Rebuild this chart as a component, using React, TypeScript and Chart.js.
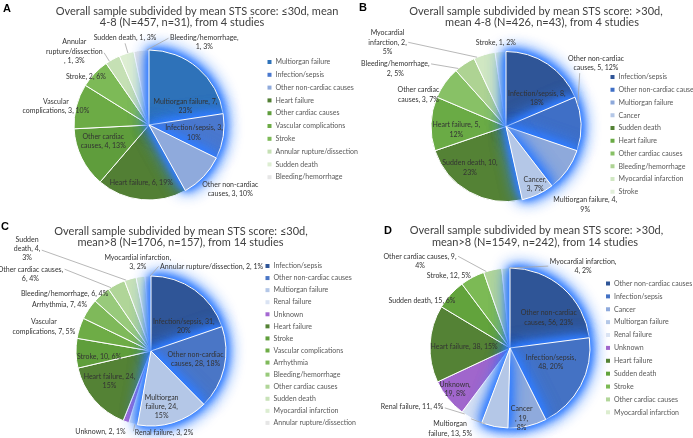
import React, { useEffect, useRef } from "react";
import { Chart, registerables } from "chart.js";

Chart.register(...registerables);

const W = 693;
const H = 438;

// ---------- Panel A ----------
const causesA = ["Multiorgan failure", "Infection/sepsis", "Other non-cardiac causes", "Heart failure", "Other cardiac causes", "Vascular complications", "Stroke", "Annular rupture/dissection", "Sudden death", "Bleeding/hemorrhage"];
const deathsA = [7, 3, 3, 6, 4, 3, 2, 1, 1, 1];
const pctA = [23, 10, 10, 19, 13, 10, 6, 3, 3, 3];
const titleA = ["Overall sample subdivided by mean STS score: ≤30d, mean", "4-8 (N=457, n=31), from 4 studies"];

// ---------- Panel B ----------
const causesB = ["Infection/sepsis", "Other non-cardiac causes", "Multiorgan failure", "Cancer", "Sudden death", "Heart failure", "Other cardiac causes", "Bleeding/hemorrhage", "Myocardial infarction", "Stroke"];
const deathsB = [8, 5, 4, 3, 10, 5, 3, 2, 2, 1];
const pctB = [18, 12, 9, 7, 23, 12, 7, 5, 5, 2];
const titleB = ["Overall sample subdivided by mean STS score: >30d,", "mean 4-8 (N=426, n=43), from 4 studies"];

// ---------- Panel C ----------
const causesC = ["Infection/sepsis", "Other non-cardiac causes", "Multiorgan failure", "Renal failure", "Unknown", "Heart failure", "Stroke", "Vascular complications", "Arrhythmia", "Bleeding/hemorrhage", "Other cardiac causes", "Sudden death", "Myocardial infarction", "Annular rupture/dissection"];
const deathsC = [31, 28, 24, 3, 2, 24, 10, 7, 7, 6, 6, 4, 3, 2];
const pctC = [20, 18, 15, 2, 1, 15, 6, 5, 4, 4, 4, 3, 2, 1];
const titleC = ["Overall sample subdivided by mean STS score: ≤30d,", "mean>8 (N=1706, n=157), from 14 studies"];

// ---------- Panel D ----------
const causesD = ["Other non-cardiac causes", "Infection/sepsis", "Cancer", "Multiorgan failure", "Renal failure", "Unknown", "Heart failure", "Sudden death", "Stroke", "Other cardiac causes", "Myocardial infarction"];
const deathsD = [56, 48, 19, 13, 11, 19, 38, 15, 12, 9, 4];
const pctD = [23, 20, 8, 5, 4, 8, 15, 6, 5, 4, 2];
const titleD = ["Overall sample subdivided by mean STS score: >30d,", "mean>8 (N=1549, n=242), from 14 studies"];

// ---------- colours ----------
const colorsA = ["#2E72B9", "#4A78CE", "#8FAADC", "#527F34", "#5F9D3C", "#6CAB45", "#7DBA57", "#C5E0B4", "#DDEED2", "#E6E6E6"];
const colorsB = ["#2F5597", "#3F6FC6", "#8EA9DB", "#B4C7E7", "#548235", "#6AAB45", "#88C166", "#AED393", "#D0E7C2", "#E2EFDA"];
const colorsC = ["#2F5597", "#4A76C6", "#B4C7E7", "#DAE3F3", "#A468D2", "#548235", "#5F9E3B", "#6EAC46", "#7FB95A", "#98CA7B", "#B0D598", "#C8E2B8", "#DCEDD1", "#E6E6E6"];
const colorsD = ["#2F5597", "#4472C4", "#8FAADC", "#B4C7E7", "#DAE3F3", "#A066CC", "#548235", "#62A33C", "#7CBA55", "#B2D69A", "#DCEDCF"];

type Place = { b: string[]; k: number; dx: number; dy: number; a?: [number, number] };

const placeA: Place[] = [
  { b: ["val"], k: 0.5, dx: 12, dy: 10 },
  { b: ["val"], k: 0.6, dx: 0.5, dy: 1 },
  { b: ["w2"], k: 1.2, dx: 16, dy: 2 },
  { b: [], k: 0.75, dx: -2, dy: 2 },
  { b: ["w2"], k: 0.65, dx: -2, dy: -5 },
  { b: ["w1"], k: 1.2, dx: -6, dy: 4 },
  { b: [], k: 1.05, dx: -6, dy: 6 },
  { b: ["w1", "name"], k: 1.2, dx: -31, dy: 5, a: [1, 0.1] },
  { b: [], k: 1.2, dx: 3, dy: -1, a: [0, 1] },
  { b: ["name,"], k: 1.15, dx: 64, dy: 3, a: [-1, -0.4] },
];
const placeB: Place[] = [
  { b: ["val"], k: 0.6, dx: 6, dy: 9 },
  { b: ["w2"], k: 1.2, dx: 0, dy: -60, a: [-0.55, 1] },
  { b: ["val"], k: 1.2, dx: 6, dy: 26 },
  { b: ["name,"], k: 0.85, dx: 2, dy: 0 },
  { b: ["val"], k: 0.6, dx: -14, dy: 2 },
  { b: ["val"], k: 0.65, dx: -1, dy: 5 },
  { b: ["w2"], k: 1.05, dx: -23.5, dy: 14 },
  { b: ["name,"], k: 1.2, dx: -61, dy: 17.4, a: [1, -0.5] },
  { b: ["w1", "val"], k: 1.2, dx: -92.5, dy: 2, a: [1, 0] },
  { b: [], k: 1.12, dx: -4, dy: 0 },
];
const placeC: Place[] = [
  { b: ["val"], k: 0.6, dx: 6.6, dy: 11.8 },
  { b: ["w2"], k: 0.6, dx: 0.7, dy: -1.8 },
  { b: ["w1", "val"], k: 0.75, dx: -6, dy: 2 },
  { b: [], k: 1.1, dx: 32.7, dy: 1.6, a: [-1, -0.3] },
  { b: [], k: 1.1, dx: -23, dy: 3 },
  { b: ["val"], k: 0.6, dx: -7.4, dy: 0.7 },
  { b: [], k: 0.7, dx: 0.5, dy: 4 },
  { b: ["w1"], k: 1.15, dx: -25, dy: 2 },
  { b: [], k: 1.1, dx: -23, dy: 0 },
  { b: [], k: 1.1, dx: -32, dy: 4.3 },
  { b: ["name,"], k: 1.2, dx: -79, dy: 3, a: [1, -0.5] },
  { b: ["w1", "val"], k: 1.3, dx: -97, dy: -8.6, a: [1, 0.1] },
  { b: ["name,"], k: 1.17, dx: -1, dy: -2 },
  { b: [], k: 1.13, dx: 64, dy: 0, a: [-1, 0] },
];
const placeD: Place[] = [
  { b: ["w2"], k: 0.6, dx: 7, dy: 6 },
  { b: ["name,"], k: 0.6, dx: -1.5, dy: -8.5 },
  { b: ["name", "val"], k: 0.9, dx: -4, dy: 0 },
  { b: ["w1"], k: 1.1, dx: -43, dy: -5.6, a: [0.9, -1] },
  { b: [], k: 1.1, dx: -55.6, dy: -18.8, a: [1, 0.3] },
  { b: ["name,"], k: 0.7, dx: -11.5, dy: 6.2 },
  { b: [], k: 0.6, dx: 2, dy: 1.7 },
  { b: [], k: 1.0, dx: -28.6, dy: 6 },
  { b: [], k: 1.0, dx: -23.5, dy: -1.4 },
  { b: ["val"], k: 1.15, dx: -70, dy: 3, a: [1, -0.5] },
  { b: ["name,"], k: 1.1, dx: 77.6, dy: 6, a: [-1, 0] },
];

type Panel = {
  id: string;
  letter: string;
  letterPos: [number, number];
  title: string[];
  titleX: number[];
  titleY: number[];
  labels: string[];
  values: number[];
  pcts: number[];
  colors: string[];
  place: Place[];
  glow: number;
  cx: number;
  cy: number;
  r: number;
  legend: { sx: number; tx: number; y0: number; step: number };
};

const panels: Panel[] = [
  {
    id: "A", letter: "A", letterPos: [7, 9], title: titleA, titleX: [197, 182], titleY: [11, 22],
    labels: causesA, values: deathsA, pcts: pctA, colors: colorsA, place: placeA, glow: 3,
    cx: 149, cy: 125, r: 75, legend: { sx: 269.5, tx: 275.5, y0: 62, step: 12.8 },
  },
  {
    id: "B", letter: "B", letterPos: [363, 8], title: titleB, titleX: [536, 542], titleY: [11, 22],
    labels: causesB, values: deathsB, pcts: pctB, colors: colorsB, place: placeB, glow: 4,
    cx: 506, cy: 126.5, r: 75, legend: { sx: 612.5, tx: 618.5, y0: 77, step: 12.75 },
  },
  {
    id: "C", letter: "C", letterPos: [5, 227], title: titleC, titleX: [181, 180.5], titleY: [231, 242],
    labels: causesC, values: deathsC, pcts: pctC, colors: colorsC, place: placeC, glow: 3,
    cx: 151, cy: 351, r: 75, legend: { sx: 267.5, tx: 273.5, y0: 266, step: 12.07 },
  },
  {
    id: "D", letter: "D", letterPos: [388, 231], title: titleD, titleX: [536.5, 535], titleY: [230, 242],
    labels: causesD, values: deathsD, pcts: pctD, colors: colorsD, place: placeD, glow: 4,
    cx: 510, cy: 348, r: 80, legend: { sx: 608, tx: 614, y0: 283.5, step: 12.88 },
  },
];

function splitLabel(name: string, v: number, p: number, breaks: string[]): string[] {
  const s = `${name}, ${v}, ${p}%`;
  const words = name.split(" ");
  const idx = breaks
    .map((b) => {
      if (b[0] === "w") return words.slice(0, Number(b.slice(1))).join(" ").length;
      if (b === "name") return name.length;
      if (b === "name,") return name.length + 1;
      return name.length + 2 + String(v).length + 1;
    })
    .sort((a, b) => a - b);
  const out: string[] = [];
  let prev = 0;
  for (const i of idx) {
    out.push(s.slice(prev, i).trim());
    prev = i;
  }
  out.push(s.slice(prev).trim());
  return out;
}

const LABEL_FONT = "7px Lato";
const LINE_H = 9.4;

function slicePath(ctx: CanvasRenderingContext2D, x: number, y: number, r: number, a0: number, a1: number) {
  ctx.beginPath();
  ctx.moveTo(x, y);
  ctx.arc(x, y, r, a0, a1);
  ctx.closePath();
}

function makePlugin(p: Panel) {
  return {
    id: "panel" + p.id,
    afterDatasetsDraw(chart: any) {
      const ctx = chart.ctx as CanvasRenderingContext2D;
      const meta = chart.getDatasetMeta(0);

      // glow around the highlighted (blue) slices, slice by slice
      for (let i = 0; i < p.glow; i++) {
        const { x, y, startAngle, endAngle, outerRadius } = meta.data[i].getProps(["x", "y", "startAngle", "endAngle", "outerRadius"], true);
        ctx.save();
        ctx.shadowColor = "rgba(50,125,255,1)";
        ctx.fillStyle = p.colors[i];
        ctx.shadowBlur = 18;
        slicePath(ctx, x, y, outerRadius, startAngle, endAngle);
        ctx.fill();
        ctx.fill();
        ctx.shadowBlur = 9;
        ctx.fill();
        ctx.fill();
        ctx.restore();
        ctx.save();
        slicePath(ctx, x, y, outerRadius, startAngle, endAngle);
        ctx.fillStyle = p.colors[i];
        ctx.fill();
        ctx.strokeStyle = "#FFFFFF";
        ctx.lineWidth = 1;
        ctx.stroke();
        ctx.restore();
      }

      ctx.save();
      ctx.font = LABEL_FONT;
      ctx.textAlign = "center";
      ctx.textBaseline = "middle";
      meta.data.forEach((arc: any, i: number) => {
        const { x, y, startAngle, endAngle, outerRadius } = arc.getProps(["x", "y", "startAngle", "endAngle", "outerRadius"], true);
        const L = p.place[i];
        const mid = (startAngle + endAngle) / 2;
        const tx = x + Math.cos(mid) * outerRadius * L.k + L.dx;
        const ty = y + Math.sin(mid) * outerRadius * L.k + L.dy;
        const lines = splitLabel(p.labels[i], p.values[i], p.pcts[i], L.b);
        const w = Math.max(...lines.map((s) => ctx.measureText(s).width));
        const h = lines.length * LINE_H;
        if (L.a) {
          const ax = tx + L.a[0] * (w / 2 + 1.5);
          const ay = ty + L.a[1] * (h / 2 + 0.5);
          let ang = Math.atan2(ay - y, ax - x);
          while (ang < startAngle) ang += Math.PI * 2;
          while (ang > startAngle + Math.PI * 2) ang -= Math.PI * 2;
          const span = endAngle - startAngle;
          const inset = span * 0.15;
          if (ang > endAngle) {
            const dEnd = ang - endAngle;
            const dStart = startAngle + Math.PI * 2 - ang;
            ang = dEnd < dStart ? endAngle : startAngle;
          }
          ang = Math.min(Math.max(ang, startAngle + inset), endAngle - inset);
          ctx.beginPath();
          ctx.moveTo(ax, ay);
          ctx.lineTo(x + Math.cos(ang) * outerRadius, y + Math.sin(ang) * outerRadius);
          ctx.strokeStyle = "#A6A6A6";
          ctx.lineWidth = 0.8;
          ctx.stroke();
        }
        ctx.fillStyle = "#333333";
        lines.forEach((s, j) => {
          ctx.fillText(s, tx, ty - h / 2 + LINE_H * (j + 0.5));
        });
      });
      ctx.restore();
    },
    afterDraw(chart: any) {
      const ctx = chart.ctx as CanvasRenderingContext2D;
      ctx.save();
      // panel letter
      ctx.font = "bold 11px 'Liberation Sans', Arial, sans-serif";
      ctx.fillStyle = "#000";
      ctx.textAlign = "center";
      ctx.textBaseline = "middle";
      ctx.fillText(p.letter, p.letterPos[0], p.letterPos[1]);
      // title
      ctx.font = "11px Lato";
      ctx.fillStyle = "#404040";
      p.title.forEach((s, j) => ctx.fillText(s, p.titleX[j], p.titleY[j]));
      // legend
      ctx.font = LABEL_FONT;
      ctx.textAlign = "left";
      p.labels.forEach((s, i) => {
        const yy = p.legend.y0 + i * p.legend.step;
        ctx.fillStyle = p.colors[i];
        ctx.fillRect(p.legend.sx - 2, yy - 2, 4, 4);
        ctx.fillStyle = "#595959";
        ctx.fillText(s, p.legend.tx, yy);
      });
      ctx.restore();
    },
  };
}

function PiePanel({ panel }: { panel: Panel }) {
  const ref = useRef<HTMLCanvasElement | null>(null);
  useEffect(() => {
    const canvas = ref.current;
    if (!canvas) return;
    const m = 4;
    const chart = new Chart(canvas, {
      type: "pie",
      data: {
        labels: panel.labels,
        datasets: [
          {
            data: panel.values,
            backgroundColor: panel.colors,
            borderColor: "#FFFFFF",
            borderWidth: 1,
            radius: panel.r,
          } as any,
        ],
      },
      options: {
        responsive: false,
        animation: false,
        events: [],
        radius: panel.r,
        layout: {
          padding: {
            left: panel.cx - panel.r - m,
            right: W - (panel.cx + panel.r + m),
            top: panel.cy - panel.r - m,
            bottom: H - (panel.cy + panel.r + m),
          },
        },
        plugins: {
          legend: { display: false },
          title: { display: false },
          tooltip: { enabled: false },
        },
      } as any,
      plugins: [makePlugin(panel)],
    });
    return () => chart.destroy();
  }, [panel]);
  return (
    <canvas
      ref={ref}
      width={W}
      height={H}
      style={{ position: "absolute", left: 0, top: 0, width: W, height: H }}
    />
  );
}

export default function App() {
  return (
    <div style={{ position: "absolute", left: 0, top: 0, width: W, height: H, background: "#FFFFFF", overflow: "hidden" }}>
      {panels.map((p) => (
        <PiePanel key={p.id} panel={p} />
      ))}
    </div>
  );
}
